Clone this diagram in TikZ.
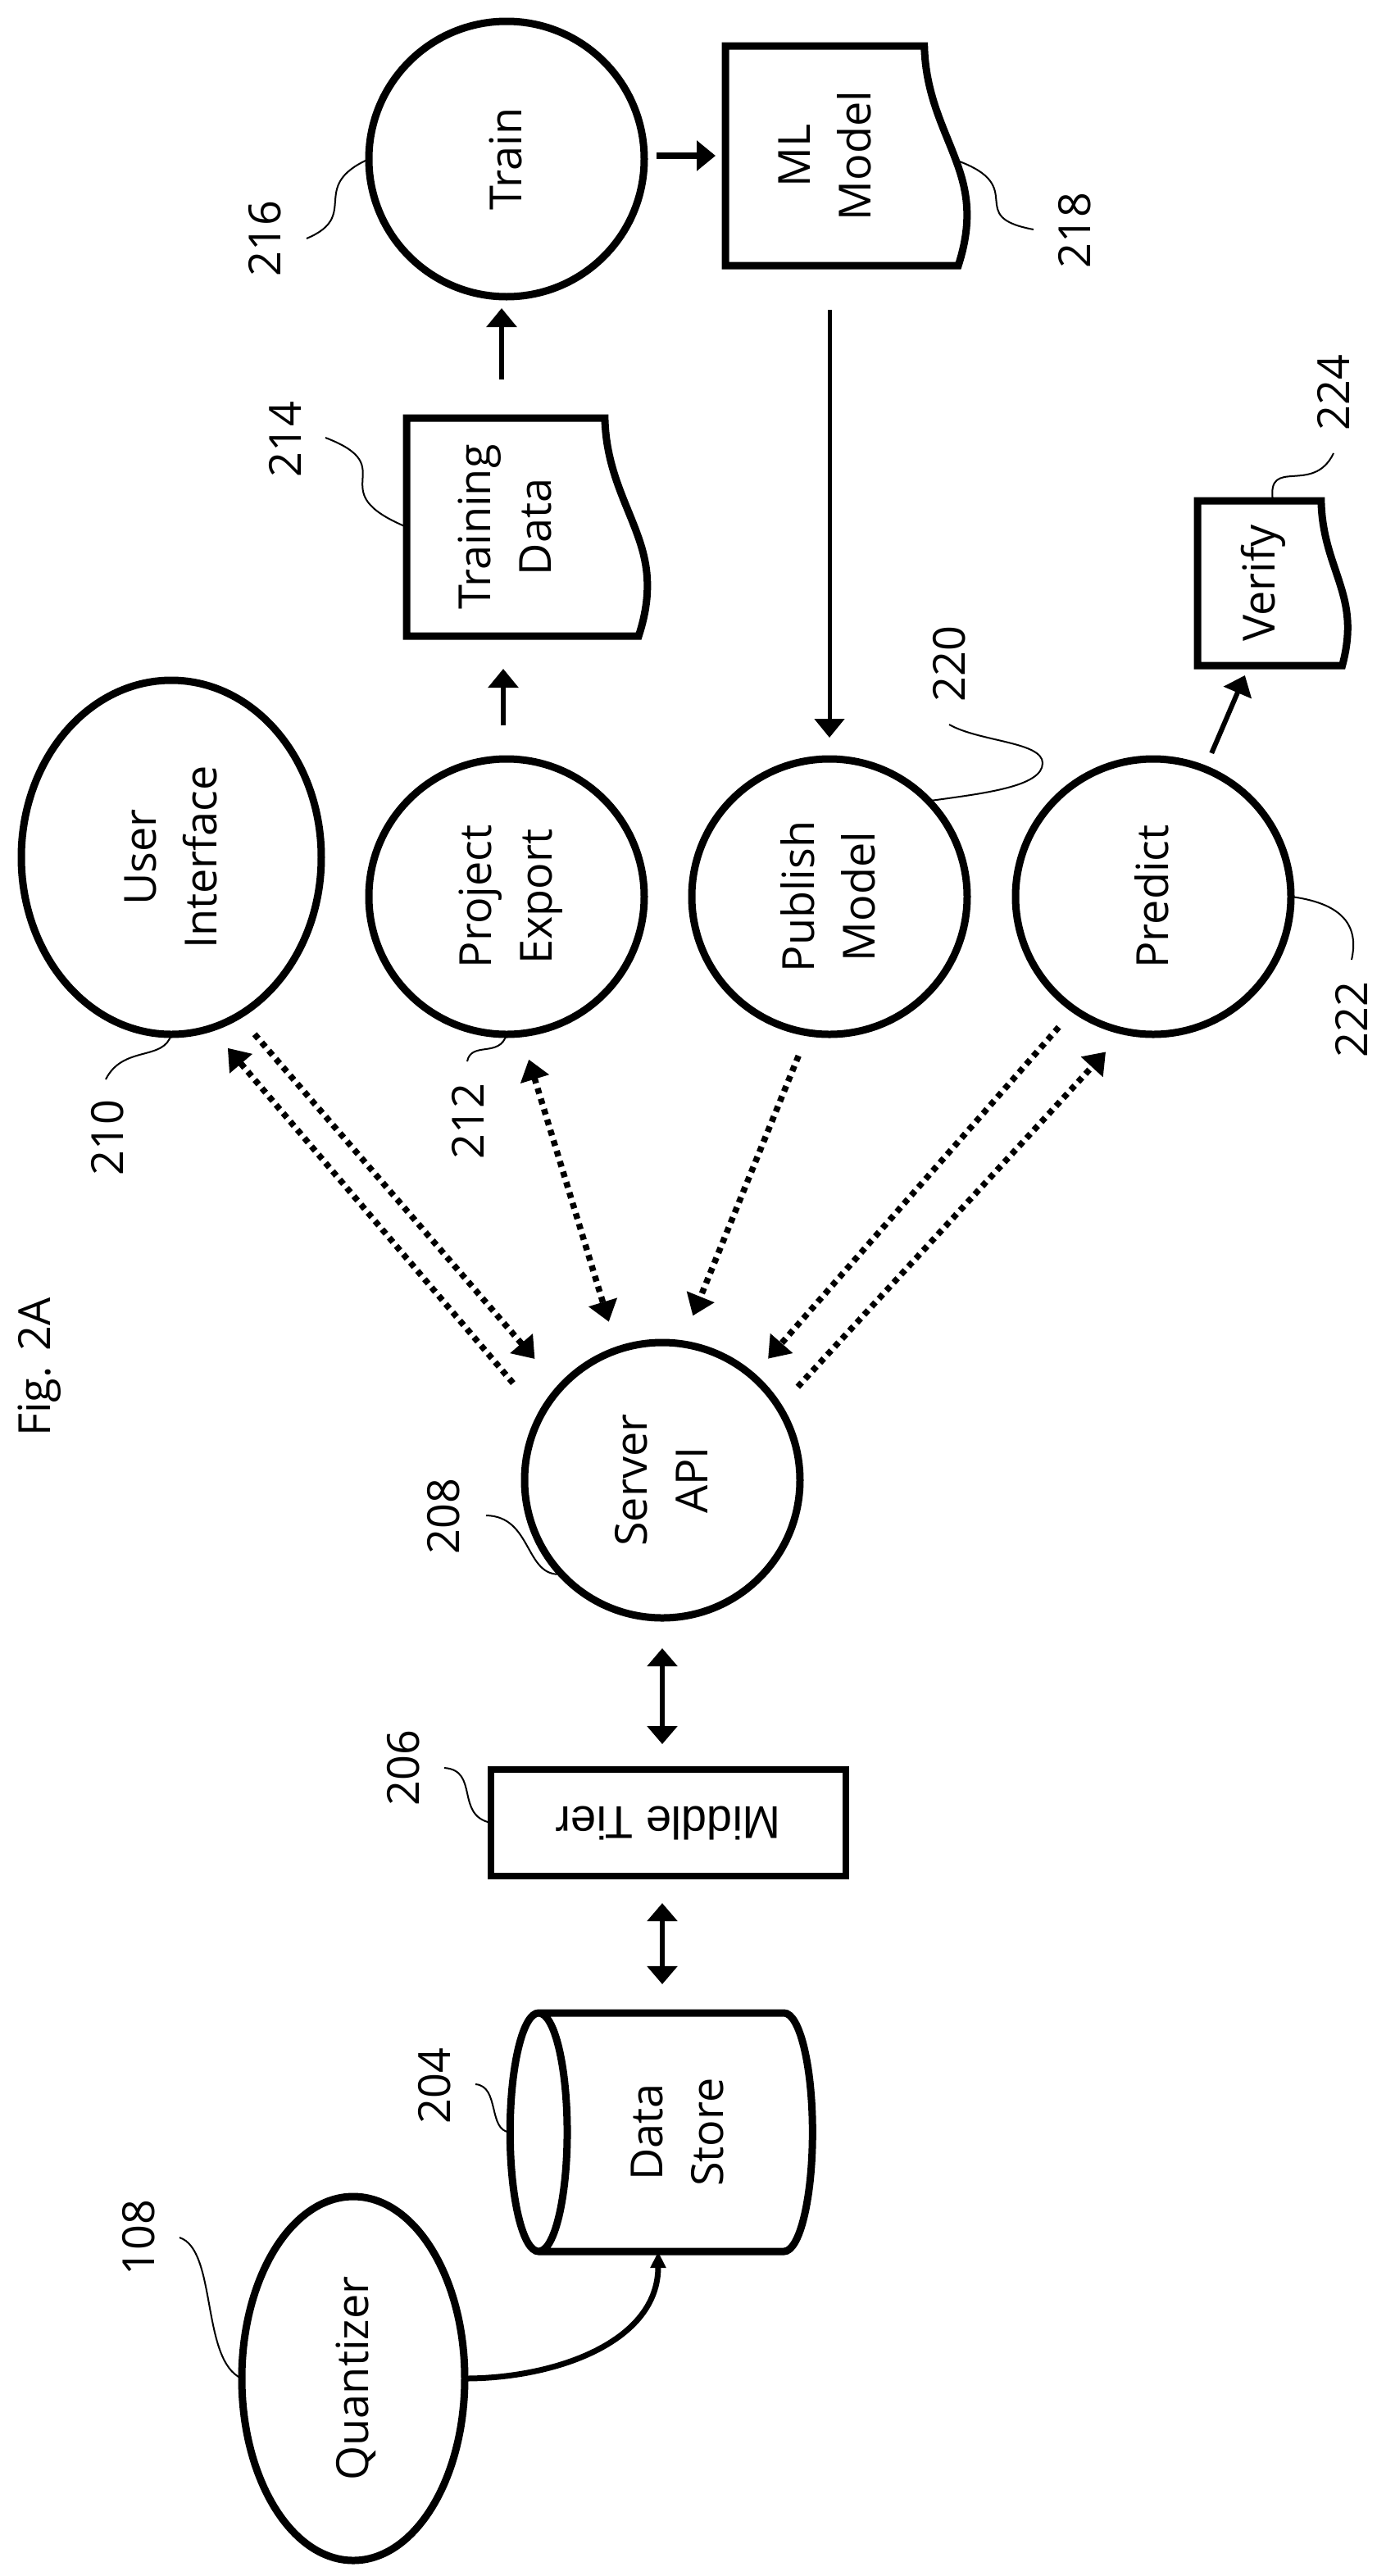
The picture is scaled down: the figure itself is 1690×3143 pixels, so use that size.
\documentclass[tikz,border=0pt]{standalone}
\usepackage{fontspec}
\setmainfont{Open Sans}
\newfontfamily\tierfont{Liberation Sans}
\usetikzlibrary{shapes.geometric,arrows.meta,calc}
\newcommand{\sidetext}[1]{\rotatebox{90}{\raisebox{-4pt}[\height][\depth]{\begin{tabular}{@{}c@{}}#1\end{tabular}}}}
\tikzset{%
  bubble/.style   = {shape=ellipse, draw, line width=9pt, inner sep=0pt, outer sep=0pt},%
  docbox/.style   = {shape=rectangle, inner sep=0pt, outer sep=0pt},%
  docline/.style  = {draw, line width=9pt, line join=miter},%
  plain/.style    = {inner sep=0pt},%
  refnum/.style   = {inner sep=0pt},%
  leader/.style   = {line width=2pt},%
  flow/.style     = {line width=6pt, -{Triangle[length=23pt,width=36pt]}},%
  flowboth/.style = {line width=5.5pt, {Triangle[length=22pt,width=36pt]}-{Triangle[length=22pt,width=36pt]}},%
  dotflow/.style  = {line width=7.5pt, dash pattern=on 7pt off 6.3pt, -{Triangle[length=25pt,width=35pt]}},%
  dotboth/.style  = {line width=7.5pt, dash pattern=on 7pt off 6.3pt, {Triangle[length=25pt,width=35pt]}-{Triangle[length=25pt,width=35pt]}}%
}
\newcommand{\docshape}[6]{%
  \node[docbox, minimum width=#4pt, minimum height=#5pt] (#1) at (#2,#3) {};
  \begin{scope}[shift={(#1.north west)},x=#4pt,y=-#5pt]
    \draw[docline] (.82,0) -- (0,0) -- (0,1) -- (.96,1)
      .. controls (1.025,.78) and (.99,.64) .. (.95,.52)
      .. controls (.90,.37) and (.825,.22) .. cycle;
    \coordinate (#1wave) at (.95,.52);
    \node[plain] (#1text) at (.41,.5) {\sidetext{#6}};
  \end{scope}}

\begin{document}
\begin{tikzpicture}[x=1pt,y=-1pt,every node/.style={font=\fontsize{54}{74}\selectfont}]
	\useasboundingbox (0,0) rectangle (1690,3143);
	% top row
	\node[bubble, minimum width=336pt, minimum height=336pt] (train) at (618,194) {\sidetext{Train}};
	\docshape{ml}{1033}{190}{296}{268}{ML\\Model}
	\docshape{training}{643.5}{643}{295}{266}{Training\\Data}
	\docshape{verify}{1553}{711.5}{184}{201}{Verify}
	% middle row
	\node[bubble, minimum width=366pt, minimum height=432pt] (ui) at (209,1046) {\sidetext{User\\Interface}};
	\node[bubble, minimum width=336pt, minimum height=336pt] (project) at (618,1094) {\sidetext{Project\\Export}};
	\node[bubble, minimum width=336pt, minimum height=336pt] (publish) at (1012,1094) {\sidetext{Publish\\Model}};
	\node[bubble, minimum width=336pt, minimum height=336pt] (predict) at (1407,1094) {\sidetext{Predict}};
	% bottom column
	\node[bubble, minimum width=336pt, minimum height=336pt] (server) at (808,1806) {\sidetext{Server\\API}};
	\node[draw, line width=8pt, inner sep=0pt, outer sep=0pt, minimum width=433pt, minimum height=130pt] (middle) at (815.5,2224) {\tierfont\fontsize{56}{66}\selectfont\rotatebox{180}{Middle Tier}};
	\node[shape=cylinder, draw, line width=9pt, shape border rotate=180, aspect=.526, inner sep=0pt, outer sep=0pt, minimum width=291pt, minimum height=369pt] (store) at (826.5,2601.5) {\sidetext{Data\\Store}};
	\node[bubble, minimum width=272pt, minimum height=444pt] (quantizer) at (431,2902) {\sidetext{Quantizer}};
	\node[plain] (figname) at (48,1668) {\rotatebox{90}{Fig. 2A}};

	% solid connectors
	\draw[flow, line width=8pt, shorten <=15pt, shorten >=12pt] (ml.west -| train.east) -- (ml.west);
	\draw[flow, shorten <=47pt, shorten >=14pt] ([xshift=-6pt]train.south |- training.north) -- ([xshift=-6pt]train.south);
	\draw[flow, shorten <=41pt, shorten >=40pt] ([xshift=-4pt]project.north) -- ([xshift=-4pt]project.north |- training.south);
	\draw[flow, line width=5pt, shorten <=54pt, shorten >=26pt] (ml.south -| publish.north) -- (publish.north);
	\draw[flow, shorten <=21pt, shorten >=13pt] (predict.68) -- ([xshift=-29pt]verify.south);
	\draw[flowboth, shorten <=37pt, shorten >=31pt] (server.south) -- (server.south |- middle.north);
	\draw[flowboth, shorten <=33pt, shorten >=35pt] (server.south |- middle.south) -- (server.south |- store.north);
	\draw[line width=7pt, -{Triangle[length=20pt,width=18pt]}] (quantizer.east) to[out=0,in=-90] ([xshift=-5pt]server.south |- store.south);

	% dotted connectors
	\draw[dotflow, shorten <=52pt, shorten >=32pt] (server.152.8) -- (ui.-77.8);
	\draw[dotflow, shorten <=30pt, shorten >=47pt] (ui.-67.6) -- (server.138.1);
	\draw[dotboth, shorten <=33pt, shorten >=36pt] (project.-84.4) -- (server.109.7);
	\draw[dotflow, shorten <=30.5pt, shorten >=37pt] (publish.-99.4) -- (server.82.9);
	\draw[dotflow, shorten <=28.7pt, shorten >=28.6pt] (predict.-125.7) -- (server.49.9);
	\draw[dotflow, shorten <=33.8pt, shorten >=34pt] (server.32.9) -- (predict.-102.7);

	% reference numerals
	\node[refnum] (n216) at (323,291) {\rotatebox{90}{216}};
	\node[refnum] (n218) at (1311,281) {\rotatebox{90}{218}};
	\node[refnum] (n214) at (348,536) {\rotatebox{90}{214}};
	\node[refnum] (n220) at (1158,810) {\rotatebox{90}{220}};
	\node[refnum] (n224) at (1627,479) {\rotatebox{90}{224}};
	\node[refnum] (n222) at (1649,1244) {\rotatebox{90}{222}};
	\node[refnum] (n212) at (571,1368) {\rotatebox{90}{212}};
	\node[refnum] (n210) at (131,1388) {\rotatebox{90}{210}};
	\node[refnum] (n208) at (541,1850) {\rotatebox{90}{208}};
	\node[refnum] (n206) at (492,2157) {\rotatebox{90}{206}};
	\node[refnum] (n204) at (530,2545) {\rotatebox{90}{204}};
	\node[refnum] (n108) at (169,2730) {\rotatebox{90}{108}};

	% leader ends
	\coordinate (c216) at (374,291);
	\coordinate (c218) at (1261,280);
	\coordinate (c214) at (397,534);
	\coordinate (c220) at (1158,884);
	\coordinate (c224) at (1627,553);
	\coordinate (c222) at (1649,1171);
	\coordinate (c212) at (570,1295);
	\coordinate (c210) at (129,1317);
	\coordinate (c208) at (593,1849);
	\coordinate (c206) at (542,2157);
	\coordinate (c204) at (580,2543);
	\coordinate (c108) at (219,2730);

	\draw[leader] (train.west) .. controls (375,228) and (441,263) .. (c216);
	\draw[leader] (mlwave) .. controls (1258,228) and (1174,264) .. (c218);
	\draw[leader] (training.west) .. controls (388,598) and (494,571) .. (c214);
	\draw[leader] (publish.44) .. controls (1200,968) and (1272,960) .. (1272,931) .. controls (1272,905) and (1195,905) .. (c220);
	\draw[leader] (verify.north) .. controls (1545,556) and (1602,605) .. (c224);
	\draw[leader] (predict.east) .. controls (1645,1103) and (1657,1135) .. (c222);
	\draw[leader] (project.south) .. controls (610,1291) and (575,1270) .. (c212);
	\draw[leader] (ui.south) .. controls (200,1295) and (150,1275) .. (c210);
	\draw[leader] (server.223.6) .. controls (640,1925) and (650,1850) .. (c208);
	\draw[leader] (middle.west) .. controls (555,2215) and (585,2160) .. (c206);
	\draw[leader] (store.west) .. controls (595,2600) and (610,2545) .. (c204);
	\draw[leader] (quantizer.west) .. controls (245,2880) and (265,2745) .. (c108);
\end{tikzpicture}
\end{document}
